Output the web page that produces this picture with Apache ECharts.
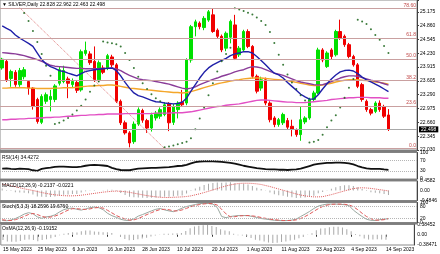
<!DOCTYPE html>
<html>
<head>
<meta charset="utf-8">
<script src="https://cdn.jsdelivr.net/npm/echarts@6/dist/echarts.min.js"></script>
<style>
html, body { margin: 0; padding: 0; background: #fff; }
#main { width: 440px; height: 254px; }
</style>
</head>
<body>
<div id="main"></div>
<script>
// SILVER daily, 15 May 2023 - 14 Sep 2023
var opens = [23.90,24.05,23.66,23.80,23.52,23.70,23.59,23.44,23.18,22.66,
  23.14,23.18,23.18,23.55,23.59,23.65,23.52,23.57,23.40,24.23,
  24.22,24.05,23.63,23.90,23.90,24.15,23.97,23.14,22.65,22.42,
  22.22,22.62,22.93,22.70,22.53,22.76,22.80,22.84,23.08,22.66,
  22.95,23.12,23.10,24.08,24.84,24.92,24.82,24.99,25.11,24.76,
  24.62,24.35,24.60,24.88,24.20,24.31,24.73,24.39,23.71,23.44,
  23.63,23.10,22.76,22.61,22.65,22.70,22.57,22.49,22.38,22.67,
  22.76,23.18,23.33,24.31,23.93,24.31,24.20,24.73,24.62,24.43,
  24.16,23.97,23.52,23.14,22.95,22.91,23.10,23.02,22.828];
var highs = [24.13,24.10,23.86,23.85,23.90,23.92,23.62,23.46,23.22,23.30,
  23.34,23.40,23.53,23.93,23.95,23.70,23.66,23.62,24.32,24.50,
  24.28,24.39,24.07,23.96,24.22,24.20,24.01,23.18,22.70,22.46,
  22.68,23.00,22.97,22.74,22.88,22.92,23.00,23.12,23.12,23.08,
  23.14,23.40,24.12,24.88,25.00,24.96,25.08,25.22,25.26,24.80,
  24.66,24.73,25.00,25.11,24.40,24.77,24.78,24.42,23.75,23.70,
  23.68,23.14,22.80,22.76,22.88,22.76,22.72,22.52,23.02,22.80,
  23.22,23.38,24.36,24.35,24.28,24.35,24.77,25.00,24.66,24.47,
  24.20,24.01,23.56,23.18,22.99,23.14,23.16,23.06,22.962];
var lows = [23.86,23.58,23.47,23.47,23.47,23.64,23.29,22.95,22.63,22.62,
  23.08,22.91,23.12,23.50,23.55,23.21,23.45,23.33,23.36,24.18,
  23.97,23.58,23.58,23.76,23.85,23.92,23.10,22.60,22.38,22.09,
  22.17,22.58,22.65,22.42,22.45,22.70,22.74,22.80,22.46,22.60,
  22.75,23.02,23.05,24.02,24.62,24.78,24.76,24.95,24.70,24.58,
  24.26,24.28,24.46,24.08,24.15,24.27,24.35,23.66,23.32,23.38,
  23.05,22.66,22.55,22.56,22.60,22.50,22.34,22.33,22.24,22.62,
  22.72,23.14,23.30,24.03,23.90,24.10,24.16,24.54,24.38,24.12,
  23.93,23.44,23.13,22.90,22.82,22.87,22.90,22.76,22.463];
var closes = [24.10,23.63,23.82,23.52,23.84,23.86,23.44,23.02,22.68,23.25,
  23.29,23.25,23.49,23.86,23.84,23.55,23.59,23.39,24.27,24.30,
  24.02,23.63,24.02,23.80,24.18,23.97,23.14,22.65,22.42,22.19,
  22.62,22.95,22.71,22.53,22.83,22.87,22.95,23.06,22.65,23.02,
  23.10,23.06,24.08,24.84,24.95,24.84,25.03,25.18,24.73,24.62,
  24.31,24.69,24.96,24.12,24.35,24.73,24.39,23.71,23.37,23.63,
  23.10,22.72,22.61,22.72,22.84,22.55,22.50,22.38,22.72,22.76,
  23.18,23.33,24.31,24.08,24.24,24.16,24.73,24.58,24.43,24.16,
  23.97,23.48,23.18,22.95,22.87,23.10,22.95,22.80,22.498];

// moving averages drawn on the price chart
var maBlue = [24.86,24.80,24.75,24.65,24.58,24.52,24.46,24.39,24.24,24.09,
  23.99,23.93,23.89,23.84,23.82,23.78,23.75,23.72,23.77,23.82,
  23.84,23.86,23.87,23.88,23.89,23.90,23.84,23.72,23.57,23.44,
  23.33,23.27,23.24,23.20,23.16,23.13,23.12,23.10,23.09,23.08,
  23.09,23.12,23.21,23.37,23.52,23.67,23.80,23.90,23.97,24.02,
  24.07,24.12,24.18,24.22,24.24,24.27,24.27,24.24,24.16,24.07,
  23.97,23.87,23.78,23.74,23.67,23.57,23.48,23.39,23.30,23.24,
  23.19,23.19,23.29,23.42,23.54,23.65,23.74,23.81,23.84,23.85,
  23.83,23.77,23.69,23.63,23.58,23.53,23.48,23.42,23.36];
var maPurple = [24.25,24.24,24.23,24.22,24.20,24.18,24.15,24.12,24.09,24.05,
  24.01,23.96,23.94,23.93,23.92,23.91,23.90,23.89,23.89,23.88,
  23.88,23.88,23.88,23.89,23.89,23.90,23.88,23.84,23.78,23.73,
  23.69,23.65,23.63,23.62,23.61,23.59,23.57,23.55,23.53,23.50,
  23.47,23.44,23.42,23.44,23.47,23.52,23.56,23.60,23.64,23.67,
  23.71,23.74,23.77,23.81,23.84,23.86,23.90,23.93,23.92,23.90,
  23.86,23.82,23.78,23.76,23.73,23.69,23.65,23.61,23.58,23.56,
  23.54,23.52,23.51,23.52,23.55,23.59,23.63,23.67,23.70,23.72,
  23.72,23.71,23.68,23.65,23.62,23.60,23.57,23.54,23.51];
var maOrange = [23.44,23.44,23.45,23.45,23.45,23.45,23.44,23.44,23.43,23.43,
  23.43,23.43,23.44,23.44,23.45,23.45,23.45,23.46,23.47,23.48,
  23.49,23.49,23.50,23.50,23.51,23.51,23.50,23.48,23.46,23.44,
  23.43,23.42,23.41,23.40,23.39,23.38,23.37,23.36,23.35,23.34,
  23.34,23.33,23.34,23.36,23.39,23.42,23.45,23.48,23.51,23.54,
  23.56,23.58,23.60,23.62,23.63,23.65,23.66,23.67,23.67,23.67,
  23.66,23.65,23.64,23.63,23.62,23.61,23.59,23.57,23.55,23.53,
  23.51,23.50,23.50,23.51,23.53,23.55,23.58,23.60,23.62,23.63,
  23.63,23.63,23.62,23.61,23.60,23.58,23.57,23.55,23.53];
var maPink = [22.72,22.72,22.73,22.73,22.74,22.74,22.75,22.75,22.76,22.76,
  22.77,22.77,22.78,22.78,22.79,22.80,22.80,22.81,22.82,22.82,
  22.83,22.83,22.84,22.84,22.85,22.85,22.85,22.85,22.86,22.86,
  22.86,22.86,22.86,22.86,22.86,22.87,22.87,22.87,22.87,22.88,
  22.88,22.88,22.89,22.90,22.92,22.94,22.96,22.98,23.00,23.02,
  23.03,23.05,23.06,23.07,23.08,23.10,23.12,23.14,23.16,23.17,
  23.17,23.16,23.15,23.14,23.13,23.12,23.12,23.11,23.11,23.11,
  23.12,23.13,23.14,23.15,23.16,23.18,23.19,23.20,23.21,23.22,
  23.22,23.23,23.23,23.23,23.22,23.22,23.22,23.21,23.21];
// parabolic SAR dots (null = above the visible range)
var sar = [null,null,null,null,null,25.15,24.97,24.74,24.49,24.22,
  23.95,23.72,22.62,22.65,22.70,22.76,22.84,22.93,23.04,23.18,
  23.36,23.50,23.59,24.50,24.48,24.46,24.44,24.39,24.24,24.08,
  23.90,23.70,23.55,23.42,23.30,23.21,23.14,22.09,22.11,22.13,
  22.16,22.19,22.22,22.30,22.50,22.75,23.00,23.28,23.55,23.82,
  24.05,24.22,24.36,25.26,25.23,25.20,25.16,25.12,25.05,24.97,
  24.88,24.72,24.47,24.20,23.97,23.75,23.57,23.42,23.28,23.16,
  22.20,22.22,22.26,22.38,22.55,22.70,22.82,23.00,23.22,23.45,
  23.65,25.00,24.96,24.90,24.78,24.65,24.54,24.40,24.24];
// fibonacci object: trend line (bar index, price) and levels
var fibTrend = [[4, 25.27], [37, 22.062]];
var fibPrices = [22.062, 23.020, 23.613, 24.092, 24.571, 25.253];
var fibNames = ['0.0', '23.6', '38.2', '50.0', '61.8', '78.60'];

// indicators
var rsi = [39.5,40,38,37,39,38,37,33,31,38,
  41,43,46,47,47,46,45,45,47,50,
  52,53,52,51,49,42,37,34,33,33,
  36,39,40,41,42,42,43,44,45,47,
  49,50,53,59,64,66,67,67,67,66,
  65,63,61,58,54,50,47,44,41,39,
  37,36,36,35,35,34,35,36,39,44,
  49,54,57,59,61,61,62,62,61,59,
  55,49,44,40,38,38,38,36,34.4272];
var macdMain = [0.10,0.02,-0.03,-0.08,-0.10,-0.11,-0.14,-0.20,-0.29,-0.30,
  -0.31,-0.31,-0.29,-0.25,-0.21,-0.19,-0.17,-0.17,-0.10,-0.04,
  -0.01,-0.02,0.00,0.01,0.03,0.03,-0.03,-0.12,-0.22,-0.30,
  -0.33,-0.34,-0.35,-0.36,-0.35,-0.34,-0.32,-0.30,-0.30,-0.28,
  -0.26,-0.24,-0.15,-0.02,0.10,0.18,0.26,0.33,0.36,0.38,
  0.37,0.38,0.40,0.35,0.32,0.32,0.29,0.22,0.13,0.07,
  -0.01,-0.10,-0.18,-0.23,-0.26,-0.30,-0.33,-0.36,-0.35,-0.34,
  -0.30,-0.25,-0.14,-0.07,-0.01,0.08,0.16,0.22,0.25,0.25,
  0.22,0.15,0.07,-0.02,-0.08,-0.11,-0.13,-0.17,-0.2137];
var macdSignal = [0.30,0.27,0.23,0.18,0.13,0.08,0.04,0.00,-0.05,-0.10,
  -0.14,-0.18,-0.21,-0.23,-0.25,-0.26,-0.26,-0.25,-0.23,-0.20,
  -0.17,-0.14,-0.11,-0.08,-0.06,-0.04,-0.03,-0.04,-0.06,-0.09,
  -0.13,-0.17,-0.21,-0.25,-0.28,-0.31,-0.33,-0.34,-0.34,-0.33,
  -0.32,-0.31,-0.29,-0.26,-0.21,-0.16,-0.10,-0.04,0.03,0.09,
  0.16,0.22,0.27,0.31,0.34,0.35,0.35,0.34,0.32,0.29,
  0.24,0.19,0.13,0.07,0.01,-0.05,-0.11,-0.17,-0.22,-0.26,
  -0.29,-0.31,-0.31,-0.30,-0.25,-0.20,-0.14,-0.08,-0.02,0.04,
  0.09,0.12,0.13,0.12,0.10,0.07,0.04,0.01,-0.0221];
var stochMain = [10,9,12,20,30,42,49,44,28,21,
  28,31,38,52,64,70,72,66,62,68,
  74,77,74,64,46,34,26,16,11,10,
  18,32,40,49,58,66,70,63,58,54,
  62,72,80,85,90,95,95,95,92,75,
  30,24,30,33,35,35,34,30,25,20,
  17,14,11,10,9,10,12,17,30,42,
  55,70,82,88,92,92,92,91,89,85,
  62,45,30,16,11,10,14,17,18.2596];
var stochSignal = [14,11,10,14,21,31,40,45,40,31,
  26,27,32,40,51,62,69,69,67,65,
  68,73,75,72,61,48,35,25,18,12,
  13,20,30,40,49,58,65,66,64,58,
  58,63,71,79,85,90,93,95,94,87,
  66,43,28,29,33,34,35,33,30,25,
  21,17,14,12,10,10,10,13,20,30,
  42,56,69,80,87,91,92,92,91,88,
  79,64,46,30,19,12,12,14,19.6760];
var osma = [-0.20,-0.25,-0.26,-0.26,-0.23,-0.19,-0.18,-0.20,-0.24,-0.20,
  -0.17,-0.13,-0.08,-0.02,0.04,0.07,0.09,0.08,0.13,0.16,
  0.16,0.12,0.11,0.09,0.09,0.07,0.00,-0.08,-0.16,-0.21,
  -0.20,-0.17,-0.14,-0.11,-0.07,-0.03,0.01,0.04,0.04,0.05,
  0.06,0.07,0.14,0.24,0.31,0.34,0.36,0.37,0.33,0.29,
  0.21,0.16,0.13,0.04,-0.02,-0.03,-0.06,-0.12,-0.19,-0.22,
  -0.25,-0.29,-0.31,-0.30,-0.27,-0.25,-0.22,-0.19,-0.13,-0.08,
  -0.01,0.06,0.17,0.23,0.24,0.28,0.30,0.30,0.27,0.21,
  0.13,0.03,-0.06,-0.14,-0.18,-0.18,-0.17,-0.18,-0.19152];

// axis labels
var priceLabels = ['22.030','22.345','22.660','22.975','23.290','23.605','23.915','24.230','24.545','24.860','25.175'];
var dateLabels = ['15 May 2023','25 May 2023','6 Jun 2023','16 Jun 2023','28 Jun 2023','10 Jul 2023',
  '20 Jul 2023','1 Aug 2023','11 Aug 2023','23 Aug 2023','4 Sep 2023','14 Sep 2023'];
var rsiLevels = [30, 70];
var stochLevels = [20, 80];

var slots = [];
for (var i = 0; i < 95; i++) slots.push(i);   // 89 bars + empty shift on the right
var last = closes.length - 1;
var candles = opens.map(function (o, i) { return [o, closes[i], lows[i], highs[i]]; });
function gaps(a) { return a.map(function (v) { return v == null ? '-' : v; }); }

var font = 'Liberation Sans';
var txt = { fontSize: 5, color: '#000', fontFamily: font };

var panels = [[0, 150], [152.5, 26.5], [181, 19.5], [202.5, 20], [224.5, 20.5]];
var grids = panels.map(function (p) {
    return { left: 0, right: 23, top: p[0], height: p[1], show: true,
        borderColor: '#8a8a8a', borderWidth: 1, backgroundColor: '#fff' };
});

var xAxes = panels.map(function (p, k) {
    var ax = { type: 'category', gridIndex: k, data: slots, boundaryGap: true,
        axisLine: { show: false }, axisTick: { show: false },
        axisLabel: { show: false }, splitLine: { show: false } };
    if (k === 4) {
        var every = function (idx) { return idx % 8 === 0 && idx / 8 < dateLabels.length; };
        ax.axisTick = { show: true, interval: every, length: 2, alignWithLabel: true, lineStyle: { color: '#333' } };
        ax.axisLabel = Object.assign({ show: true, interval: every, align: 'left', margin: 2,
            formatter: function (v, idx) { return dateLabels[idx / 8] || ''; } }, txt);
    }
    return ax;
});

function yAxis(k, min, max, interval, fmt, ticks) {
    return { type: 'value', gridIndex: k, position: 'right', min: min, max: max, interval: interval,
        axisLine: { show: true, lineStyle: { color: '#444' } },
        axisTick: { show: ticks, length: 2, lineStyle: { color: '#444' } },
        splitLine: { show: false },
        axisLabel: Object.assign({ margin: 3, formatter: fmt, showMinLabel: true, showMaxLabel: true }, txt) };
}

var yAxes = [
    yAxis(0, 22.030, 25.448, 0.315, function (v) {
        return priceLabels[Math.round((v - 22.030) / 0.315)] || '';
    }, true),
    yAxis(1, 0, 100, 10, function (v) { return [0, 30, 70, 100].indexOf(v) >= 0 ? String(v) : ''; }, false),
    yAxis(2, -0.4846, 0.4582, 0.4846, function (v) { return v === 0 ? '0.00' : v.toFixed(4); }, false),
    yAxis(3, 0, 100, 10, function (v) { return [0, 20, 80, 100].indexOf(v) >= 0 ? String(v) : ''; }, false),
    yAxis(4, -0.38471, 0.38452, 0.38471, function (v) { return v === 0 ? '0.00' : v.toFixed(5); }, false)
];

function maLine(data, color) {
    return { type: 'line', xAxisIndex: 0, yAxisIndex: 0, data: data, showSymbol: false, symbol: 'none',
        z: 3, lineStyle: { color: color, width: 1.4 }, silent: true };
}
function levels(vals) {
    return { silent: true, symbol: ['none', 'none'], label: { show: false },
        lineStyle: { color: '#b5b5b5', type: 'dotted', width: 1 },
        data: vals.map(function (v) { return { yAxis: v }; }) };
}

var titleStyle = { fontSize: 5, fontWeight: 'normal', color: '#000', fontFamily: font };
var titles = [
    { text: '\u25BC SILVER,Daily ' + opens[last].toFixed(3) + ' ' + highs[last].toFixed(3) + ' ' +
        lows[last].toFixed(3) + ' ' + closes[last].toFixed(3), left: 2, top: 2 },
    { text: 'RSI(14) ' + rsi[last].toFixed(4), left: 2, top: 155 },
    { text: 'MACD(12,26,9) ' + macdMain[last].toFixed(4) + ' ' + macdSignal[last].toFixed(4), left: 2, top: 183 },
    { text: 'Stoch(5,3,3) ' + stochMain[last].toFixed(4) + ' ' + stochSignal[last].toFixed(4), left: 2, top: 204.5 },
    { text: 'OsMA(12,26,9) ' + osma[last].toFixed(5), left: 2, top: 226.5 }
].map(function (t) { t.padding = 0; t.textStyle = titleStyle; return t; });

var seps = [[150, 2.5], [179, 2], [200.5, 2], [222.5, 2]].map(function (s) {
    return { type: 'rect', z: 100, shape: { x: 0, y: s[0], width: 417, height: s[1] }, style: { fill: '#7d7d7d' } };
});

var chart = echarts.init(document.getElementById('main'), null, { renderer: 'canvas' });
chart.setOption({
    animation: false,
    backgroundColor: '#fff',
    textStyle: { fontFamily: font },
    title: titles,
    graphic: seps,
    grid: grids,
    xAxis: xAxes,
    yAxis: yAxes,
    series: [
        { type: 'candlestick', xAxisIndex: 0, yAxisIndex: 0, data: candles, barWidth: 3, z: 2,
          itemStyle: { color: '#00e000', color0: '#f00000', borderColor: '#00e000', borderColor0: '#f00000', borderWidth: 1 },
          markLine: { silent: true, symbol: ['none', 'none'],
            lineStyle: { color: '#a8a8a8', type: 'solid', width: 1 },
            label: Object.assign({ show: true, position: 'end', distance: 2, formatter: closes[last].toFixed(3),
                backgroundColor: '#000', padding: [1, 2, 0, 2] }, txt, { color: '#fff' }),
            data: [{ yAxis: closes[last] }] } },
        maLine(maPink, '#e24fc4'),
        maLine(maOrange, '#f4a62a'),
        maLine(maPurple, '#8a3c98'),
        maLine(maBlue, '#1f1fa8'),
        { type: 'scatter', xAxisIndex: 0, yAxisIndex: 0, data: gaps(sar), symbolSize: 2, z: 4,
          itemStyle: { color: '#0a5a0a' }, silent: true },
        { type: 'line', xAxisIndex: 0, yAxisIndex: 0, data: fibTrend, showSymbol: false, symbol: 'none', z: 3,
          lineStyle: { color: '#e07a7a', type: 'dotted', width: 1 }, silent: true,
          markLine: { silent: true, symbol: ['none', 'none'],
            lineStyle: { color: '#c9a0a0', type: 'solid', width: 1 },
            label: Object.assign({ show: true, position: 'insideEndTop', distance: 1 }, txt, { color: '#c04848' }),
            data: fibPrices.map(function (p, i) { return { yAxis: p, label: { formatter: fibNames[i] } }; }) } },

        { type: 'line', xAxisIndex: 1, yAxisIndex: 1, data: rsi, showSymbol: false, symbol: 'none',
          lineStyle: { color: '#111', width: 1.8 }, silent: true, markLine: levels(rsiLevels) },

        { type: 'bar', xAxisIndex: 2, yAxisIndex: 2, data: macdMain, barWidth: 1,
          itemStyle: { color: '#a9a9a9' }, silent: true },
        { type: 'line', xAxisIndex: 2, yAxisIndex: 2, data: macdSignal, showSymbol: false, symbol: 'none',
          lineStyle: { color: '#e05a5a', type: 'dotted', width: 1 }, silent: true },

        { type: 'line', xAxisIndex: 3, yAxisIndex: 3, data: stochMain, showSymbol: false, symbol: 'none',
          lineStyle: { color: '#9aa8a0', width: 1 }, silent: true, markLine: levels(stochLevels) },
        { type: 'line', xAxisIndex: 3, yAxisIndex: 3, data: stochSignal, showSymbol: false, symbol: 'none',
          lineStyle: { color: '#e05a5a', type: 'dashed', width: 1 }, silent: true },

        { type: 'bar', xAxisIndex: 4, yAxisIndex: 4, data: osma, barWidth: 1,
          itemStyle: { color: '#a9a9a9' }, silent: true }
    ]
});
</script>
</body>
</html>
